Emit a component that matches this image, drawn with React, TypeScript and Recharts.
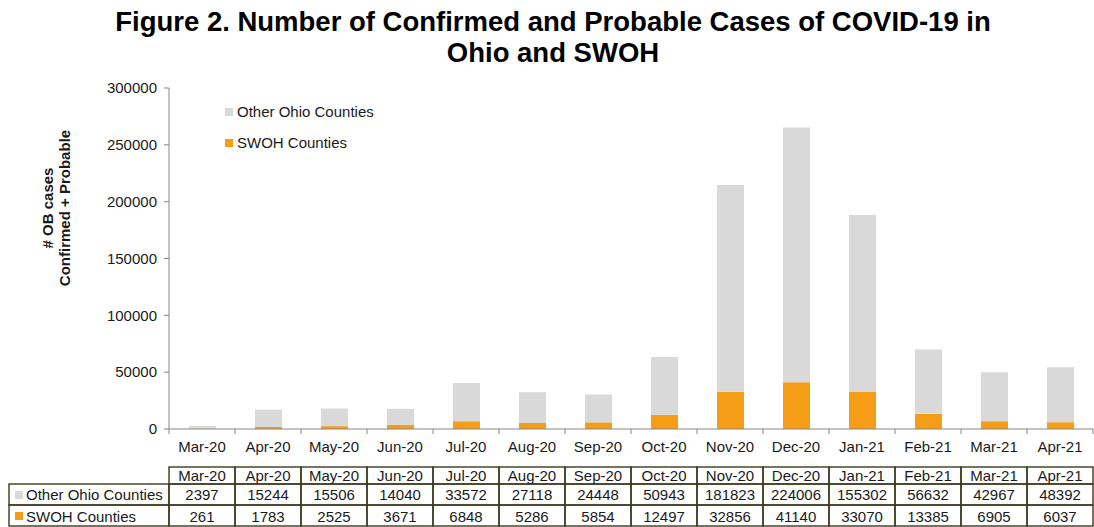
import React from "react";
import { BarChart, Bar, XAxis, YAxis, Legend } from "recharts";

const months = ["Mar-20", "Apr-20", "May-20", "Jun-20", "Jul-20", "Aug-20", "Sep-20", "Oct-20", "Nov-20", "Dec-20", "Jan-21", "Feb-21", "Mar-21", "Apr-21"];
const otherOhio = [2397, 15244, 15506, 14040, 33572, 27118, 24448, 50943, 181823, 224006, 155302, 56632, 42967, 48392];
const swoh = [261, 1783, 2525, 3671, 6848, 5286, 5854, 12497, 32856, 41140, 33070, 13385, 6905, 6037];
const yTicks = [0, 50000, 100000, 150000, 200000, 250000, 300000];

const seriesNames = { other: "Other Ohio Counties", swoh: "SWOH Counties" };
const GRAY = "#d9d9d9";
const ORANGE = "#f59d16";
const BORDER = "#3c3a1c";
const AXIS = "#868686";
const FONT = "'Liberation Sans', Arial, sans-serif";

const data = months.map((m, i) => ({ month: m, other: otherOhio[i], swoh: swoh[i] }));

const W = 1094;
const H = 527;
const PLOT_LEFT = 169;
const PLOT_RIGHT = 1093;
const BW = (PLOT_RIGHT - PLOT_LEFT) / months.length;

const TableTick = (props: any) => {
  const { x, y, payload } = props;
  const i = payload.index;
  const h = BW / 2;
  const rows = [
    { top: 38, bottom: 55, text: months[i], base: 51.5 },
    { top: 55, bottom: 76, text: String(otherOhio[i]), base: 71 },
    { top: 76, bottom: 97, text: String(swoh[i]), base: 92.5 },
  ];
  return (
    <g>
      <line x1={x + h} y1={y} x2={x + h} y2={y + 5} stroke={AXIS} strokeWidth={1} />
      {i === 0 && <line x1={x - h} y1={y} x2={x - h} y2={y + 5} stroke={AXIS} strokeWidth={1} />}
      <text x={x} y={y + 23} textAnchor="middle" fontSize={15} fontFamily={FONT} fill="#1a1a1a">
        {months[i]}
      </text>
      {rows.map((r, k) => (
        <g key={k}>
          <rect x={x - h} y={y + r.top} width={BW} height={r.bottom - r.top} fill="none" stroke={BORDER} strokeWidth={1.4} />
          <text x={x} y={y + r.base} textAnchor="middle" fontSize={15} fontFamily={FONT} fill="#1a1a1a">
            {r.text}
          </text>
        </g>
      ))}
      {i === 0 && (
        <g>
          <rect x={9} y={y + 55} width={x - h - 9} height={21} fill="none" stroke={BORDER} strokeWidth={1.4} />
          <rect x={9} y={y + 76} width={x - h - 9} height={21} fill="none" stroke={BORDER} strokeWidth={1.4} />
          <rect x={15} y={y + 62} width={8} height={8} fill={GRAY} />
          <rect x={15} y={y + 83} width={8} height={8} fill={ORANGE} />
          <text x={26} y={y + 71} fontSize={15} fontFamily={FONT} fill="#1a1a1a">{seriesNames.other}</text>
          <text x={26} y={y + 92.5} fontSize={15} fontFamily={FONT} fill="#1a1a1a">{seriesNames.swoh}</text>
        </g>
      )}
    </g>
  );
};

const LegendContent = () => (
  <div style={{ fontFamily: FONT, fontSize: 15, color: "#1a1a1a", lineHeight: "17px" }}>
    <div style={{ display: "flex", alignItems: "center", height: 17 }}>
      <span style={{ display: "inline-block", width: 8, height: 8, background: GRAY, marginRight: 4 }} />
      {seriesNames.other}
    </div>
    <div style={{ display: "flex", alignItems: "center", height: 17, marginTop: 14 }}>
      <span style={{ display: "inline-block", width: 8, height: 8, background: ORANGE, marginRight: 4 }} />
      {seriesNames.swoh}
    </div>
  </div>
);

const YLabel = () => {
  const cy = 208;
  return (
    <g fontFamily={FONT} fontSize={15} fontWeight="bold" fill="#1a1a1a">
      <text transform={`translate(53, ${cy}) rotate(-90)`} textAnchor="middle">
        # OB cases
      </text>
      <text transform={`translate(70, ${cy}) rotate(-90)`} textAnchor="middle">
        Confirmed + Probable
      </text>
    </g>
  );
};

export default function App() {
  return (
    <div style={{ position: "absolute", left: 0, top: 0, width: W, height: H, background: "#fff" }}>
      <div
        style={{
          position: "absolute",
          left: 0,
          top: 6,
          width: W + 12,
          textAlign: "center",
          fontFamily: FONT,
          fontWeight: "bold",
          fontSize: 27.5,
          lineHeight: "31px",
          color: "#000",
          whiteSpace: "nowrap",
        }}
      >
        Figure 2. Number of Confirmed and Probable Cases of COVID-19 in
        <br />
        Ohio and SWOH
      </div>
      <BarChart
        width={W}
        height={H}
        data={data}
        margin={{ top: 88, right: W - PLOT_RIGHT, bottom: 0, left: 0 }}
        barSize={27}
      >
        <XAxis
          dataKey="month"
          height={98}
          interval={0}
          tickLine={false}
          tickSize={0}
          tickMargin={0}
          stroke={AXIS}
          tick={<TableTick />}
        />
        <YAxis
          width={PLOT_LEFT}
          domain={[0, 300000]}
          ticks={yTicks}
          interval={0}
          stroke={AXIS}
          tickSize={5}
          tickMargin={7}
          tick={{ fill: "#1a1a1a", fontSize: 15, fontFamily: FONT }}
          label={<YLabel />}
        />
        <Legend
          verticalAlign="middle"
          align="center"
          layout="horizontal"
          content={<LegendContent />}
          wrapperStyle={{ position: "absolute", left: 225, top: 103, width: 300 }}
        />
        <Bar dataKey="swoh" stackId="a" fill={ORANGE} isAnimationActive={false} name={seriesNames.swoh} />
        <Bar dataKey="other" stackId="a" fill={GRAY} isAnimationActive={false} name={seriesNames.other} />
      </BarChart>
    </div>
  );
}
